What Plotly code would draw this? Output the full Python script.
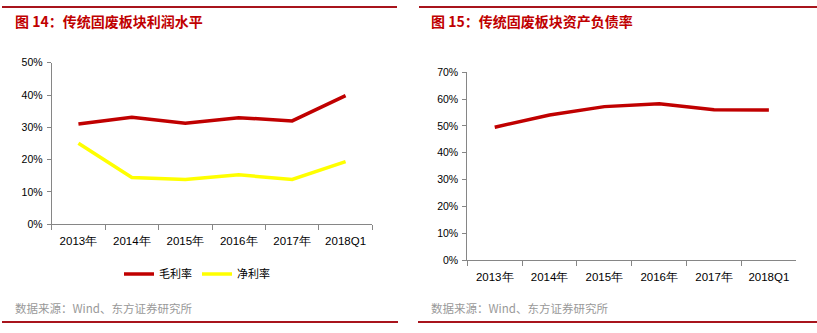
import plotly.graph_objects as go

W, H = 817, 333

categories = ["2013年", "2014年", "2015年", "2016年", "2017年", "2018Q1"]
gross_margin = [0.310, 0.331, 0.313, 0.330, 0.320, 0.398]
net_margin = [0.251, 0.145, 0.139, 0.153, 0.139, 0.194]
debt_ratio = [0.495, 0.541, 0.572, 0.583, 0.560, 0.559]

title_left = "图 14：传统固废板块利润水平"
title_right = "图 15：传统固废板块资产负债率"
source_text = "数据来源：Wind、东方证券研究所"

RED = "#C00000"
YEL = "#FFFF00"
RULE = "#A8141C"
AX = "#868686"
TICKFONT = dict(family="Liberation Sans, Arial", size=11.5, color="#000000")


def px_x(p):
    return p / W


def px_y(p):
    return 1 - p / H


fig = go.Figure()
fig.add_trace(go.Scatter(x=categories, y=gross_margin, name="毛利率", mode="lines",
                         line=dict(color=RED, width=3.5), xaxis="x", yaxis="y"))
fig.add_trace(go.Scatter(x=categories, y=net_margin, name="净利率", mode="lines",
                         line=dict(color=YEL, width=3.5), xaxis="x", yaxis="y"))
fig.add_trace(go.Scatter(x=categories, y=debt_ratio, name="资产负债率", mode="lines",
                         line=dict(color=RED, width=3.5), xaxis="x2", yaxis="y2",
                         showlegend=False))

common_x = dict(type="category", tickson="boundaries", ticks="outside", ticklen=5,
                tickcolor=AX, showline=True, linecolor=AX, linewidth=1,
                showgrid=False, zeroline=False, tickfont=TICKFONT, fixedrange=True,
                range=[-0.5, 5.5], autorange=False, ticklabelstandoff=6)
common_y = dict(ticks="outside", ticklen=4, tickcolor=AX, showline=True, linecolor=AX,
                linewidth=1, showgrid=False, zeroline=False, tickformat=".0%",
                dtick=0.1, tickfont=dict(family="Liberation Sans, Arial", size=10.5,
                                         color="#000000"), fixedrange=True,
                ticklabelstandoff=2)

fig.update_layout(
    width=W, height=H,
    margin=dict(l=0, r=0, t=0, b=0, autoexpand=False),
    paper_bgcolor="white", plot_bgcolor="white",
    xaxis=dict(domain=[px_x(51.7), px_x(372.3)], anchor="y", **common_x),
    yaxis=dict(domain=[px_y(224.3), px_y(62.7)], anchor="x", range=[0, 0.5], **common_y),
    xaxis2=dict(domain=[px_x(467.3), px_x(796.3)], anchor="y2", **common_x),
    yaxis2=dict(domain=[px_y(260), px_y(72.3)], anchor="x2", range=[0, 0.7], **common_y),
    showlegend=True,
    legend=dict(orientation="h", x=px_x(197), xanchor="center", y=px_y(274),
                yanchor="middle", font=dict(family="Noto Sans CJK SC", size=11,
                                            color="#000000"),
                bgcolor="rgba(0,0,0,0)", itemwidth=30, tracegroupgap=0),
)

shapes = []
for x0, x1 in [(2, 397), (419, 817)]:
    shapes.append(dict(type="line", xref="paper", yref="paper", x0=px_x(x0), x1=px_x(x1),
                       y0=px_y(7), y1=px_y(7), line=dict(color=RULE, width=2)))
for x0, x1 in [(2, 398), (418, 817)]:
    shapes.append(dict(type="line", xref="paper", yref="paper", x0=px_x(x0), x1=px_x(x1),
                       y0=px_y(322), y1=px_y(322), line=dict(color=RULE, width=2)))
fig.update_layout(shapes=shapes)

ann = []
for x0, t in [(13, title_left), (429, title_right)]:
    ann.append(dict(text="<b>" + t + "</b>", x=px_x(x0), y=px_y(21), xref="paper",
                    yref="paper", xanchor="left", yanchor="middle", showarrow=False,
                    font=dict(family="Noto Sans CJK SC", size=14, color=RED)))
for x0 in [13, 429]:
    ann.append(dict(text=source_text, x=px_x(x0), y=px_y(308), xref="paper",
                    yref="paper", xanchor="left", yanchor="middle", showarrow=False,
                    font=dict(family="Noto Sans CJK SC", size=11.5, color="#999999")))
fig.update_layout(annotations=ann)

fig.write_html("out.html")
